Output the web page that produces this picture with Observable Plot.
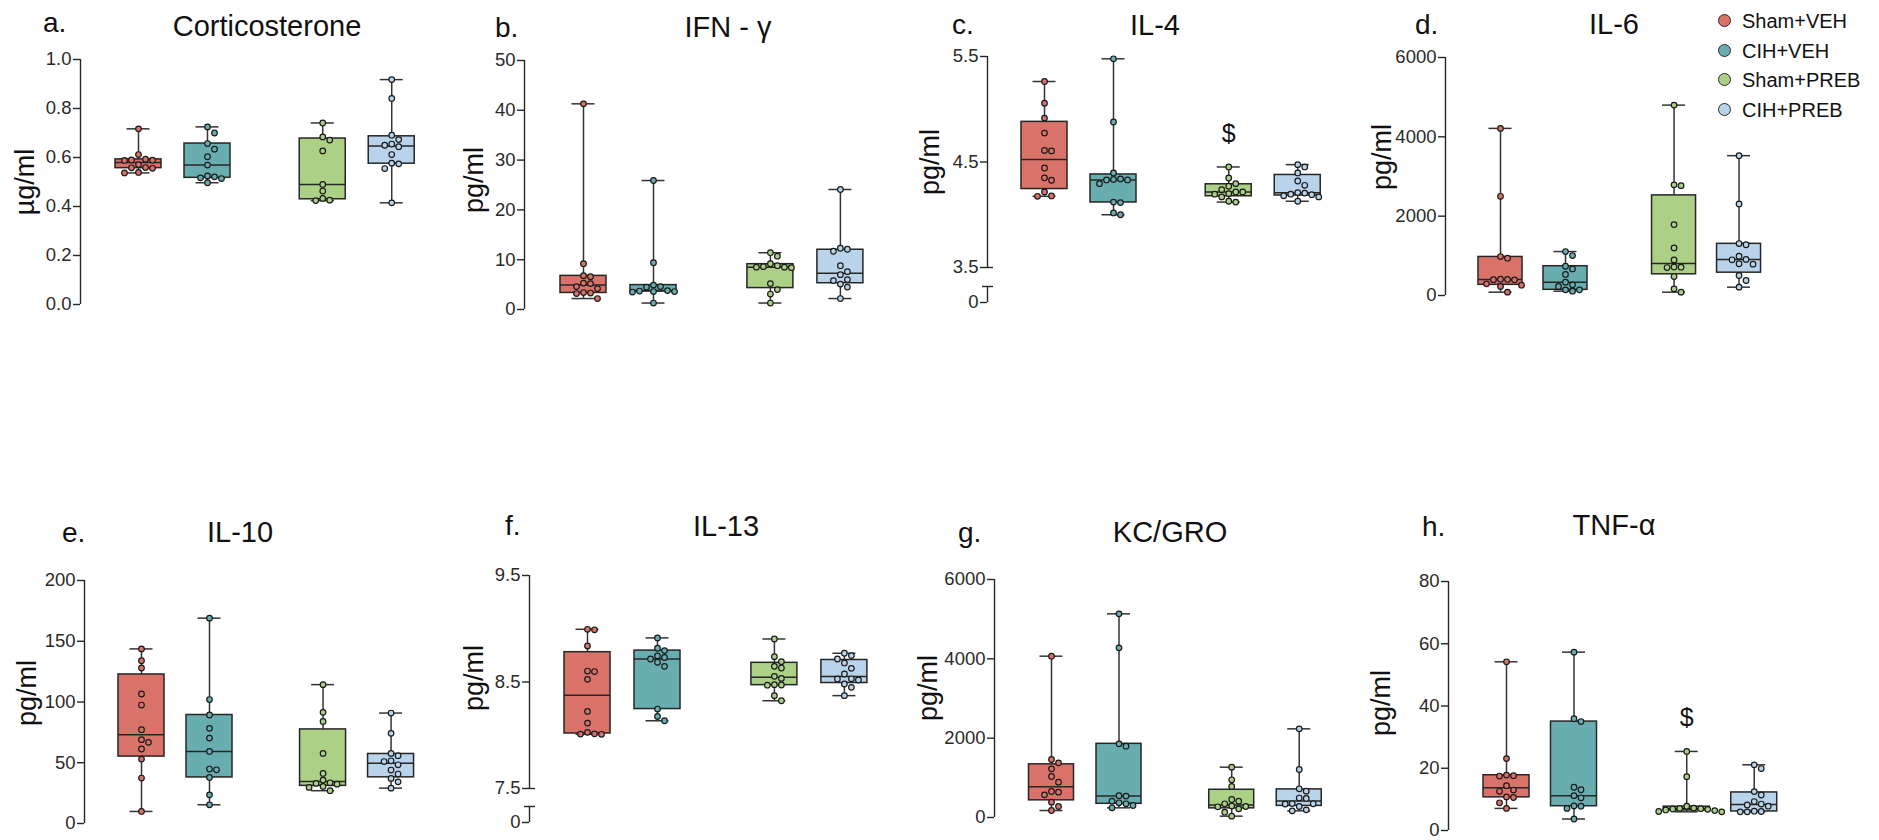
<!DOCTYPE html>
<html>
<head>
<meta charset="utf-8">
<script src="https://cdn.jsdelivr.net/npm/d3@7"></script>
<script src="https://cdn.jsdelivr.net/npm/@observablehq/plot@0.6"></script>
<style>
  body { margin: 0; background: #fff; }
  #fig { position: relative; width: 1879px; height: 840px; overflow: hidden;
         font-family: "Liberation Sans", Arial, sans-serif; color: #111; background: #fff; }
  .abs { position: absolute; white-space: nowrap; }
  .swatch { position: absolute; width: 11px; height: 11px; border-radius: 50%;
            border: 1.5px solid #2b2b2b; }
</style>
</head>
<body>
<div id="fig"></div>
<script>
// ---- groups ----
const groups = ["Sham+VEH", "CIH+VEH", "Sham+PREB", "CIH+PREB"];
const groupColors = ["#d9736a", "#68aeb1", "#add087", "#b9d3ea"];

// ---- panel text ----
const panelLetters = ["a.", "b.", "c.", "d.", "e.", "f.", "g.", "h."];
const panelTitles = ["Corticosterone", "IFN - γ", "IL-4", "IL-6", "IL-10", "IL-13", "KC/GRO", "TNF-α"];
const yLabels = ["µg/ml", "pg/ml", "pg/ml", "pg/ml", "pg/ml", "pg/ml", "pg/ml", "pg/ml"];
const yTicks = [
  [0, 0.2, 0.4, 0.6, 0.8, 1.0],
  [0, 10, 20, 30, 40, 50],
  [0, 3.5, 4.5, 5.5],
  [0, 2000, 4000, 6000],
  [0, 50, 100, 150, 200],
  [0, 7.5, 8.5, 9.5],
  [0, 2000, 4000, 6000],
  [0, 20, 40, 60, 80]
];
const tickDecimals = [1, 0, 1, 0, 0, 1, 0, 0];

// ---- measurements per animal, one list per group (Sham+VEH, CIH+VEH, Sham+PREB, CIH+PREB) ----
const corticosterone = [
  [0.717, 0.612, 0.593, 0.590, 0.589, 0.588, 0.571, 0.559, 0.558, 0.556, 0.539, 0.537],
  [0.725, 0.700, 0.657, 0.634, 0.603, 0.569, 0.525, 0.521, 0.517, 0.514, 0.497],
  [0.741, 0.684, 0.671, 0.627, 0.490, 0.463, 0.433, 0.426, 0.424],
  [0.918, 0.841, 0.691, 0.673, 0.655, 0.650, 0.644, 0.612, 0.577, 0.574, 0.555, 0.415]
];
const ifnGamma = [
  [41.3, 9.2, 6.8, 6.6, 5.3, 5.2, 4.6, 4.2, 3.4, 3.3, 3.2, 2.2],
  [25.9, 9.4, 4.9, 4.6, 4.5, 3.8, 3.7, 3.6, 3.6, 3.5, 1.3],
  [11.4, 10.7, 9.2, 8.8, 8.6, 8.5, 8.5, 8.4, 5.2, 4.0, 3.1, 1.3],
  [24.1, 12.3, 12.1, 11.7, 8.8, 7.6, 7.0, 6.0, 5.8, 5.1, 4.5, 2.2]
];
const il4 = [
  [5.263, 5.058, 4.916, 4.774, 4.61, 4.605, 4.443, 4.35, 4.327, 4.216, 4.178, 4.175],
  [5.478, 4.879, 4.396, 4.34, 4.335, 4.33, 4.33, 4.295, 4.12, 4.115, 4.017, 4.0],
  [4.453, 4.349, 4.295, 4.27, 4.238, 4.216, 4.216, 4.2, 4.195, 4.169, 4.128, 4.12],
  [4.475, 4.453, 4.396, 4.32, 4.279, 4.21, 4.205, 4.195, 4.19, 4.18, 4.169, 4.128]
];
const il6 = [
  [4213, 2501, 982, 940, 410, 405, 400, 395, 294, 260, 227, 84],
  [1108, 1007, 738, 671, 529, 336, 269, 227, 143, 143, 109],
  [4800, 2790, 2769, 1787, 1200, 898, 720, 713, 705, 478, 168, 84],
  [3525, 2308, 1310, 1280, 990, 910, 900, 800, 790, 504, 378, 210]
];
const il10 = [
  [143.7, 134, 128, 106.6, 97.5, 77.2, 69, 66.8, 61.3, 53, 37.4, 9.9],
  [169, 102, 89.3, 78.3, 70.3, 59.3, 44.8, 44.2, 37.9, 23.6, 15.4],
  [114.3, 91.5, 84, 57.7, 41.2, 35.7, 33.5, 33.0, 32.4, 30.5, 29.7, 27],
  [90.9, 74.2, 57.7, 55.8, 51.6, 51.0, 48.3, 44, 40.7, 37.1, 34.3, 29.1]
];
const il13 = [
  [8.995, 8.99, 8.839, 8.603, 8.598, 8.525, 8.224, 8.114, 8.027, 8.013, 8.011, 8.009],
  [8.914, 8.817, 8.795, 8.745, 8.73, 8.716, 8.685, 8.647, 8.246, 8.177, 8.136],
  [8.904, 8.738, 8.691, 8.647, 8.631, 8.553, 8.534, 8.475, 8.472, 8.47, 8.372, 8.324],
  [8.77, 8.748, 8.716, 8.679, 8.628, 8.575, 8.53, 8.528, 8.519, 8.481, 8.45, 8.372]
];
const kcGro = [
  [4067, 1462, 1378, 1227, 1034, 891, 655, 639, 571, 387, 277, 176],
  [5134, 4277, 1857, 1798, 550, 540, 412, 370, 345, 303, 244],
  [1269, 950, 781, 454, 412, 345, 290, 277, 270, 218, 134, 34],
  [2235, 1210, 723, 664, 490, 480, 350, 345, 340, 277, 193, 168]
];
const tnfAlpha = [
  [54.2, 23.1, 17.8, 17.6, 17.5, 14.4, 13.0, 12.6, 10.8, 10.6, 8.9, 7.1],
  [57.3, 35.9, 35.0, 13.9, 13.1, 11.2, 10.5, 7.9, 7.8, 7.1, 3.7],
  [25.4, 17.3, 7.8, 7.2, 7.1, 7.0, 6.9, 6.8, 6.6, 6.4, 6.1, 6.0],
  [21.1, 19.9, 12.5, 11.4, 9.3, 8.5, 8.2, 7.8, 6.2, 6.1, 6.0, 6.0]
];
const panelData = [corticosterone, ifnGamma, il4, il6, il10, il13, kcGro, tnfAlpha];

// significance markers: panel index, group index, symbol
const markerPanels = [2, 7];
const markerGroups = [2, 2];
const markerSymbols = ["$", "$"];

// ---- page layout (pixels) ----
const slots = [0, 1, 2.67, 3.67];
const panelBoxes = [
  { axisX: 80,   top: 59,  bottom: 304, off: 58, step: 69,   box: 46 },
  { axisX: 524,  top: 60,  bottom: 309, off: 59, step: 70,   box: 46 },
  { axisX: 987,  top: 56,  bottom: 302, brk: 267, cap: 286, off: 57, step: 69, box: 46 },
  { axisX: 1445, top: 57,  bottom: 295, off: 55, step: 65,   box: 44 },
  { axisX: 84,   top: 580, bottom: 823, off: 57, step: 68,   box: 46 },
  { axisX: 529,  top: 575, bottom: 822, brk: 788, cap: 806, off: 58, step: 70, box: 46 },
  { axisX: 994,  top: 579, bottom: 817, off: 57, step: 67.5, box: 45 },
  { axisX: 1448, top: 581, bottom: 830, off: 58, step: 67.5, box: 46 }
];
const titlePos  = [[267, 37], [728, 38], [1155, 36], [1614, 35], [240, 543], [726, 537], [1170, 543], [1614, 536]];
const letterPos = [[43, 33], [495, 38], [952, 35], [1415, 35], [62, 543], [505, 536], [958, 543], [1422, 537]];
const ylabPos   = [[25, 182], [474, 180], [930, 162], [1382, 157], [27, 693], [474, 678], [928, 688], [1381, 703]];

const fig = document.getElementById("fig");
const FONT = "'Liberation Sans', Arial, sans-serif";

function addText(text, x, baseline, size, centered) {
  const el = document.createElement("div");
  el.className = "abs";
  el.textContent = text;
  el.style.fontSize = size + "px";
  el.style.lineHeight = size + "px";
  el.style.left = x + "px";
  el.style.top = (baseline - 0.8465 * size) + "px";
  if (centered) el.style.transform = "translateX(-50%)";
  fig.appendChild(el);
  return el;
}

function addRotated(text, cx, cy, size) {
  const el = document.createElement("div");
  el.className = "abs";
  el.textContent = text;
  el.style.fontSize = size + "px";
  el.style.lineHeight = size + "px";
  el.style.left = cx + "px";
  el.style.top = cy + "px";
  el.style.transform = "translate(-50%, -50%) rotate(-90deg)";
  fig.appendChild(el);
}

// quartiles on the (n + 1) basis
function quantile6(sorted, p) {
  const n = sorted.length, h = (n + 1) * p;
  if (h <= 1) return sorted[0];
  if (h >= n) return sorted[n - 1];
  const lo = Math.floor(h);
  return sorted[lo - 1] + (h - lo) * (sorted[lo] - sorted[lo - 1]);
}

// horizontal spread of points so they do not overlap (pixel offsets)
function spread(values, ypx, spacing, minDist) {
  const order = d3.range(values.length).sort((a, b) => ypx(values[a]) - ypx(values[b]));
  const placed = [];
  const out = new Array(values.length);
  for (const i of order) {
    const y = ypx(values[i]);
    let done = false;
    for (let k = 0; !done; k++) {
      const cands = k === 0 ? [0] : [k, -k];
      for (const c of cands) {
        const x = c * spacing;
        if (placed.every(p => Math.hypot(p.x - x, p.y - y) >= minDist)) {
          placed.push({ x, y });
          out[i] = x;
          done = true;
          break;
        }
      }
    }
  }
  return out;
}

function drawPanel(i) {
  const L = panelBoxes[i];
  const values = panelData[i];
  const ticks = yTicks[i];
  const broken = L.brk !== undefined;
  const lo = broken ? ticks[1] : ticks[0];
  const hi = ticks[ticks.length - 1];

  const svgLeft = L.axisX - 78, svgTop = L.top - 20;
  const width = 400, height = L.bottom - L.top + 30;
  const loc = px => px - svgTop;
  const yDomain = broken ? [0, lo, hi] : [lo, hi];
  const yRange = broken ? [loc(L.bottom), loc(L.brk), loc(L.top)] : [loc(L.bottom), loc(L.top)];
  const ypx = d3.scaleLinear(yDomain, yRange);

  const ml = L.axisX - svgLeft;
  const xStart = ml + L.off;
  const toX = px => px / L.step;
  const axisXv = -L.off / L.step;
  const hw = toX(L.box / 2), cw = toX(11.5);
  const ink = "#262626";
  const dec = tickDecimals[i];

  const marks = [];
  // axis line and broken-axis piece
  marks.push(Plot.ruleX([axisXv], { y1: lo, y2: hi, stroke: ink, strokeWidth: 1.4 }));
  if (broken) {
    const capV = ypx.invert(loc(L.cap));
    marks.push(Plot.ruleX([axisXv], { y1: 0, y2: capV, stroke: ink, strokeWidth: 1.4 }));
    marks.push(Plot.ruleY([capV], { x1: axisXv - toX(5), x2: axisXv + toX(6), stroke: ink, strokeWidth: 1.4 }));
    marks.push(Plot.ruleY([lo], { x1: axisXv, x2: axisXv + toX(6), stroke: ink, strokeWidth: 1.4 }));
  }
  marks.push(Plot.axisY({
    ticks,
    tickFormat: v => (broken && v === 0) ? "0" : v.toFixed(dec),
    tickSize: 7, tickPadding: 2, fontSize: 18.5, label: null,
    stroke: ink, strokeWidth: 1.4
  }));

  groups.forEach((g, j) => {
    const v = values[j];
    const color = groupColors[j];
    const s = v.slice().sort(d3.ascending);
    const st = {
      x: slots[j], min: s[0], max: s[s.length - 1],
      q1: quantile6(s, 0.25), med: d3.median(s), q3: quantile6(s, 0.75)
    };
    marks.push(Plot.ruleX([st], { x: "x", y1: "min", y2: "max", stroke: "#333", strokeWidth: 1.5 }));
    marks.push(Plot.ruleY([st.min, st.max], { x1: st.x - cw, x2: st.x + cw, stroke: "#333", strokeWidth: 1.5 }));
    marks.push(Plot.rect([st], {
      x1: d => d.x - hw, x2: d => d.x + hw, y1: "q1", y2: "q3",
      fill: color, stroke: ink, strokeWidth: 1.5
    }));
    marks.push(Plot.ruleY([st.med], { x1: st.x - hw, x2: st.x + hw, stroke: ink, strokeWidth: 1.5 }));
    const offs = spread(v, ypx, 7, 6.3);
    marks.push(Plot.dot(v.map((d, k) => ({ x: st.x + toX(offs[k]), y: d })), {
      x: "x", y: "y", r: 2.8, fill: color, stroke: "#1a1a1a", strokeWidth: 1.2
    }));
    markerPanels.forEach((p, m) => {
      if (p === i && markerGroups[m] === j) {
        marks.push(Plot.text([st], {
          x: "x", y: "max", text: () => markerSymbols[m], dy: -33,
          fontSize: 25, fill: "#111"
        }));
      }
    });
  });

  const chart = Plot.plot({
    width, height,
    marginLeft: ml, marginRight: 0,
    marginTop: loc(L.top),
    marginBottom: height - loc(broken ? L.brk : L.bottom),
    x: { type: "linear", domain: [0, 1], range: [xStart, xStart + L.step], axis: null },
    y: { type: "linear", domain: yDomain, range: yRange },
    style: { overflow: "visible", fontFamily: FONT, color: "#2a2a2a", background: "transparent", maxWidth: "none" },
    marks
  });
  const holder = document.createElement("div");
  holder.className = "abs";
  holder.style.left = svgLeft + "px";
  holder.style.top = svgTop + "px";
  holder.appendChild(chart);
  fig.appendChild(holder);

  addText(panelTitles[i], titlePos[i][0], titlePos[i][1], 29, true);
  addText(panelLetters[i], letterPos[i][0], letterPos[i][1], 28, false);
  addRotated(yLabels[i], ylabPos[i][0], ylabPos[i][1], 27);
}

panelData.forEach((_, i) => drawPanel(i));

// legend
groups.forEach((g, j) => {
  const cy = 21 + j * 29.5;
  const sw = document.createElement("div");
  sw.className = "swatch";
  sw.style.left = (1725 - 7) + "px";
  sw.style.top = (cy - 7) + "px";
  sw.style.background = groupColors[j];
  fig.appendChild(sw);
  addText(g, 1742, cy + 7.2, 20, false);
});
</script>
</body>
</html>
